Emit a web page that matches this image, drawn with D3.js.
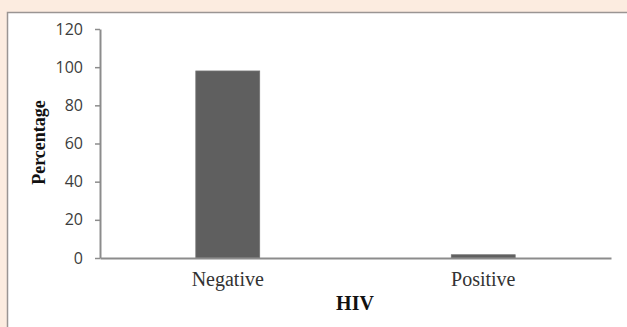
<!DOCTYPE html>
<html>
<head>
<meta charset="utf-8">
<script src="https://cdn.jsdelivr.net/npm/d3@7"></script>
<style>
  html, body { margin: 0; padding: 0; background: #fcece0; }
  svg { display: block; }
</style>
</head>
<body>
<div id="chart"></div>
<script>
// chart data
var categories = ["Negative", "Positive"];
var percentages = [98, 1.7];
var yTicks = [0, 20, 40, 60, 80, 100, 120];

var width = 627, height = 327;
var margin = {top: 29, right: 16, bottom: 69, left: 100};

var svg = d3.select("#chart").append("svg")
    .attr("width", width)
    .attr("height", height);

// white panel with grey border
svg.append("rect")
    .attr("x", 7.5).attr("y", 12.5)
    .attr("width", width).attr("height", height)
    .attr("fill", "#ffffff")
    .attr("stroke", "#9a9593")
    .attr("stroke-width", 1.5);

var g = svg.append("g")
    .attr("transform", "translate(" + margin.left + "," + margin.top + ")");

var plotW = width - margin.left - margin.right,
    plotH = height - margin.top - margin.bottom;

var x = d3.scaleBand()
    .domain(categories)
    .range([0, plotW])
    .paddingInner(0.75)
    .paddingOuter(0.375);

var y = d3.scaleLinear()
    .domain([0, 120])
    .range([plotH, 0]);

// bars
g.selectAll("rect.bar")
  .data(categories)
  .enter().append("rect")
    .attr("class", "bar")
    .attr("x", function(d) { return x(d); })
    .attr("y", function(d, i) { return y(percentages[i]); })
    .attr("width", x.bandwidth())
    .attr("height", function(d, i) { return plotH - y(percentages[i]); })
    .attr("fill", "#5f5f5f")
    .attr("stroke", "#737373")
    .attr("stroke-width", 0.8);

// y axis
var yAxis = g.append("g")
    .call(d3.axisLeft(y).tickValues(yTicks).tickSize(5).tickSizeOuter(0).tickPadding(12));
yAxis.select(".domain").attr("stroke", "#8c8c8c").attr("stroke-width", 2);
yAxis.selectAll(".tick line").attr("stroke", "#8c8c8c").attr("stroke-width", 1.5);
yAxis.selectAll(".tick text")
    .attr("fill", "#3c3c3c")
    .style("font-family", "'Open Sans', sans-serif")
    .style("font-size", "16px");

// x axis
var xAxis = g.append("g")
    .attr("transform", "translate(0," + plotH + ")")
    .call(d3.axisBottom(x).tickSize(0).tickSizeOuter(0).tickPadding(14));
xAxis.select(".domain").attr("stroke", "#8c8c8c").attr("stroke-width", 2);
xAxis.selectAll(".tick text")
    .attr("fill", "#333333")
    .style("font-family", "'Liberation Serif', 'Times New Roman', serif")
    .style("font-size", "20px");

// axis titles
svg.append("text")
    .attr("x", margin.left + plotW / 2 - 0.5)
    .attr("y", 310)
    .attr("text-anchor", "middle")
    .style("font-family", "'Liberation Serif', 'Times New Roman', serif")
    .style("font-size", "20px")
    .style("font-weight", "bold")
    .attr("fill", "#111")
    .text("HIV");

svg.append("text")
    .attr("transform", "translate(45,142.5)rotate(-90)")
    .attr("text-anchor", "middle")
    .style("font-family", "'Liberation Serif', 'Times New Roman', serif")
    .style("font-size", "18px")
    .style("font-weight", "bold")
    .attr("fill", "#111")
    .text("Percentage");
</script>
</body>
</html>
